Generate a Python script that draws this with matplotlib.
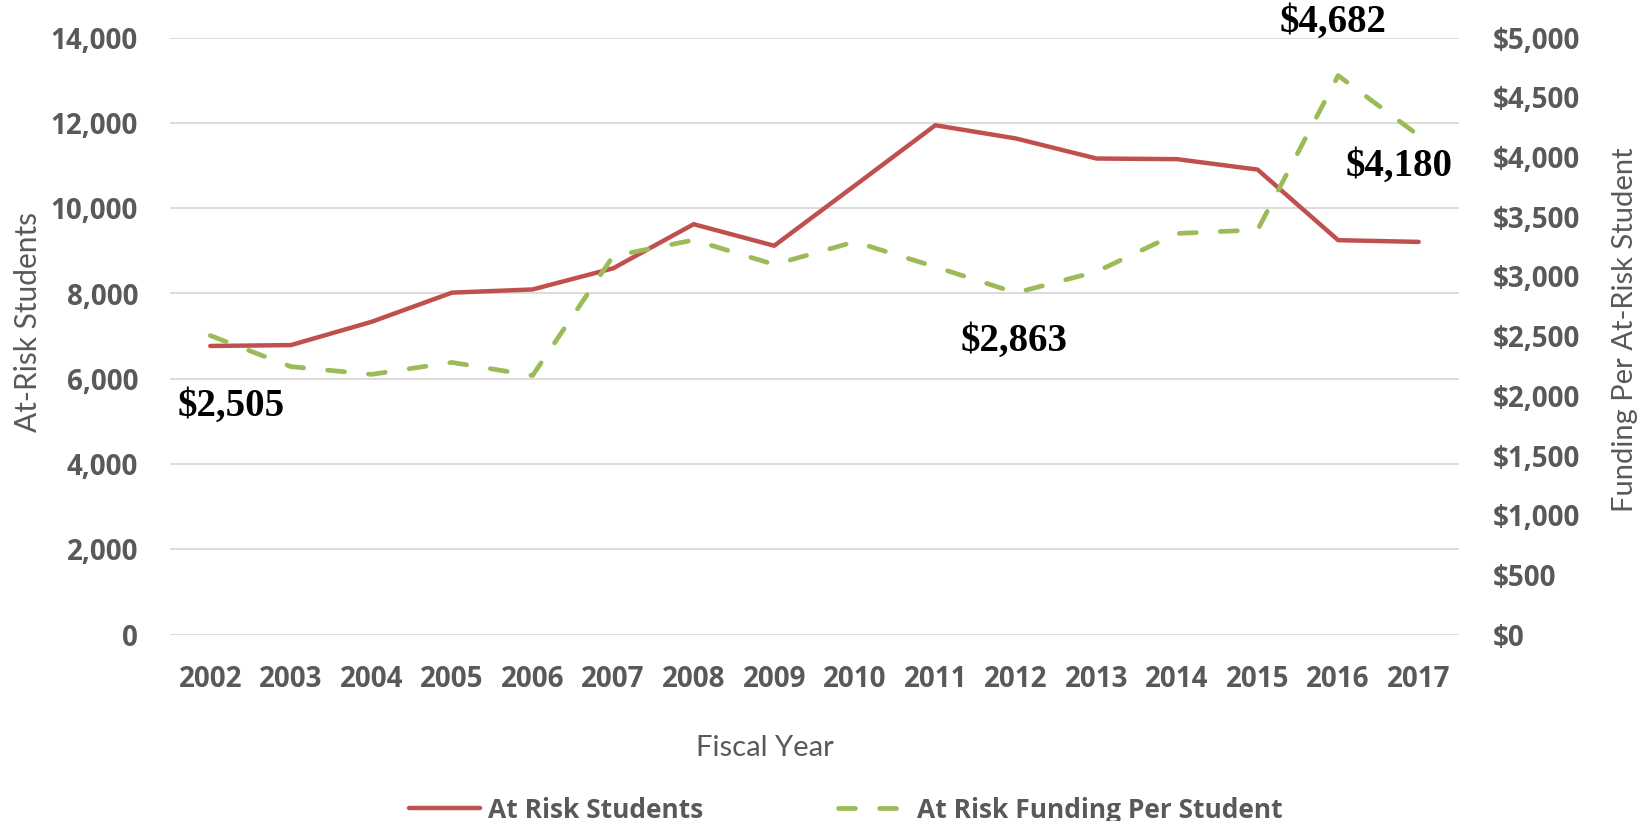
import matplotlib.pyplot as plt
from matplotlib.ticker import FuncFormatter

years = ['2002', '2003', '2004', '2005', '2006', '2007', '2008', '2009',
         '2010', '2011', '2012', '2013', '2014', '2015', '2016', '2017']
students = [6770, 6790, 7335, 8020, 8095, 8590, 9625, 9120,
            10530, 11945, 11635, 11165, 11150, 10905, 9250, 9210]
funding = [2505, 2245, 2180, 2280, 2170, 3170, 3305, 3100,
           3290, 3080, 2863, 3040, 3360, 3390, 4682, 4180]

# which funding points get a callout, and where the text sits (offset in points)
callouts = {0: (15, -51), 10: (-1.5, -35), 14: (-4, 38.5), 15: (-14, -22)}

red = '#C0504D'
green = '#9BBB59'
grey = '#595959'

fig = plt.figure(figsize=(16.46, 8.21), dpi=100)
ax = fig.add_axes([170 / 1646, 1 - 634.7 / 821, (1459 - 170) / 1646, (634.7 - 37.6) / 821])
ax2 = ax.twinx()

x = list(range(len(years)))
l1, = ax.plot(x, students, color=red, lw=3.2, solid_capstyle='round', solid_joinstyle='round',
              label='At Risk Students', zorder=3)
l2, = ax2.plot(x, funding, color=green, lw=3.4, dashes=(3.6, 5.1), dash_capstyle='round',
               dash_joinstyle='round', label='At Risk Funding Per Student', zorder=3)

ax.set_xlim(-0.5, len(years) - 0.5)
ax.set_ylim(0, 14000)
ax2.set_ylim(0, 5000)
ax.set_yticks(range(0, 14001, 2000))
ax2.set_yticks(range(0, 5001, 500))
ax.yaxis.set_major_formatter(FuncFormatter(lambda v, p: f'{int(v):,}'))
ax2.yaxis.set_major_formatter(FuncFormatter(lambda v, p: f'${int(v):,}'))
ax.set_xticks(x)
ax.set_xticklabels(years)

ax.grid(axis='y', color='#D9D9D9', lw=1.3)
ax.set_axisbelow(True)
for a in (ax, ax2):
    for s in a.spines.values():
        s.set_visible(False)
    a.tick_params(length=0)
ax.tick_params(axis='y', pad=23)
ax.tick_params(axis='x', pad=22)
ax2.tick_params(axis='y', pad=24)
for lab in ax.get_xticklabels() + ax.get_yticklabels() + ax2.get_yticklabels():
    lab.set_fontfamily('Open Sans')
    lab.set_fontweight('bold')
    lab.set_fontsize(20)
    lab.set_color(grey)

ax.set_ylabel('At-Risk Students', fontfamily='Lato', fontsize=21.5, color=grey)
ax.yaxis.set_label_coords(-0.11, 0.524)
ax.yaxis.label.set_va('center')
ax2.set_ylabel('Funding Per At-Risk Student', fontfamily='Lato', fontsize=21, color=grey,
               rotation=90)
ax2.yaxis.set_label_coords(1.1288, 0.51)
ax2.yaxis.label.set_va('center')
ax.set_xlabel('Fiscal Year', fontfamily='Lato', fontsize=21, color=grey)
ax.xaxis.set_label_coords(0.4616, -0.19)
ax.xaxis.label.set_va('center')

for i, (dx, dy) in callouts.items():
    ax2.annotate(f'${funding[i]:,}', (x[i], funding[i]), textcoords='offset points',
                 xytext=(dx, dy), ha='center', va='center', fontfamily='Liberation Serif',
                 fontweight='bold', fontsize=28, color='black')

fig.legend(handles=[l1, l2], loc='center', bbox_to_anchor=(0.5137, 1 - 810 / 821), ncol=2,
           frameon=False, handlelength=2.7, columnspacing=5.1, handletextpad=0.3,
           prop={'family': 'Open Sans', 'weight': 'bold', 'size': 19}, labelcolor=grey)

fig.savefig('out.png', dpi=100)
